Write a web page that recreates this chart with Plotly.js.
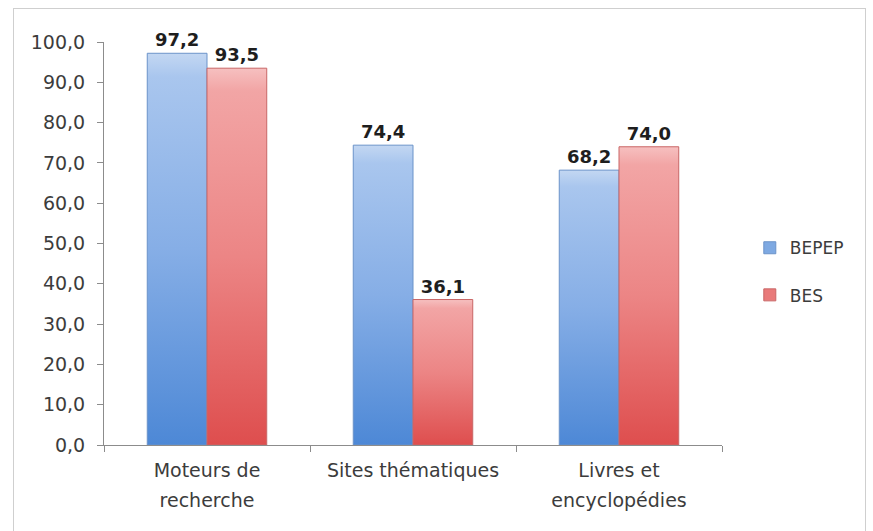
<!DOCTYPE html>
<html>
<head>
<meta charset="utf-8">
<script src="https://cdn.plot.ly/plotly-3.0.1.min.js"></script>
<style>
html,body{margin:0;padding:0;background:#fff;}
#wrap{position:relative;width:873px;height:531px;}
#frame{position:absolute;left:13px;top:8px;width:853px;height:523px;border:1px solid #cfcfcf;border-bottom:none;box-sizing:border-box;pointer-events:none;}
#chart{position:absolute;left:0;top:0;width:873px;height:531px;}
</style>
</head>
<body>
<div id="wrap"><div id="chart"></div><div id="frame"></div></div>
<script>
const categories = ["Moteurs de<br>recherche", "Sites thématiques", "Livres et<br>encyclopédies"];
const seriesNames = ["BEPEP", "BES"];
const bepep = [97.2, 74.4, 68.2];
const bes = [93.5, 36.1, 74.0];
const yTicks = [0,10,20,30,40,50,60,70,80,90,100];

const FONT = '"DejaVu Sans", sans-serif';
const common = {
  type: 'bar',
  x: categories,
  texttemplate: '%{y:.1f}',
  textposition: 'outside',
  cliponaxis: false,
  textfont: {family: FONT, size: 18, color: '#1e1e1e', weight: 'bold'},
  hoverinfo: 'none'
};
const traces = [
  Object.assign({}, common, {name: seriesNames[0], y: bepep, legendgroup: 'a',
    marker: {color: '#7ea9e2', line: {color: '#6b93c9', width: 1}}}),
  Object.assign({}, common, {name: seriesNames[1], y: bes, legendgroup: 'b',
    marker: {color: '#e97a7a', line: {color: '#c96666', width: 1}}})
];
const layout = {
  width: 873, height: 531,
  margin: {l: 104, r: 151, t: 42, b: 86},
  paper_bgcolor: 'rgba(0,0,0,0)', plot_bgcolor: 'rgba(0,0,0,0)',
  separators: ', ',
  barmode: 'group', bargap: 0.42, bargroupgap: 0,
  font: {family: FONT, size: 19, color: '#3c3c3c'},
  showlegend: true,
  legend: {x: 1.045, y: 0.43, xanchor: 'left', yanchor: 'middle', font: {size: 17, color: '#3c3c3c'},
           tracegroupgap: 22, itemwidth: 30, bgcolor: 'rgba(0,0,0,0)'},
  xaxis: {showline: true, linecolor: '#8c8c8c', ticks: 'outside', tickson: 'boundaries',
          ticklen: 6, tickcolor: '#8c8c8c', showgrid: false, zeroline: false, automargin: false,
          tickfont: {size: 19}, ticklabelstandoff: 8},
  yaxis: {range: [0, 100], tickvals: yTicks, tickformat: '.1f', showline: true, linecolor: '#8c8c8c',
          ticks: 'outside', ticklen: 6, tickcolor: '#8c8c8c', showgrid: false, zeroline: false,
          ticklabelstandoff: 8, automargin: false, tickfont: {size: 19}}
};
Plotly.newPlot('chart', traces, layout, {displayModeBar: false, staticPlot: true}).then(function(gd){
  const svg = gd.querySelector('svg.main-svg');
  const ns = 'http://www.w3.org/2000/svg';
  let defs = svg.querySelector('defs');
  if (!defs) { defs = document.createElementNS(ns, 'defs'); svg.insertBefore(defs, svg.firstChild); }
  const grads = [
    ['gBlue', [['0', '#c3d7f2'], ['0.06', '#a9c6ee'], ['0.5', '#86aee6'], ['1', '#4d88d6']]],
    ['gRed',  [['0', '#f6c0c0'], ['0.06', '#f2a5a5'], ['0.5', '#ec8585'], ['1', '#de4e4e']]]
  ];
  grads.forEach(function(g){
    const lg = document.createElementNS(ns, 'linearGradient');
    lg.setAttribute('id', g[0]); lg.setAttribute('x1','0'); lg.setAttribute('y1','0');
    lg.setAttribute('x2','0'); lg.setAttribute('y2','1');
    g[1].forEach(function(s){
      const st = document.createElementNS(ns, 'stop');
      st.setAttribute('offset', s[0]); st.setAttribute('stop-color', s[1]);
      lg.appendChild(st);
    });
    defs.appendChild(lg);
  });
  const tr = gd.querySelectorAll('.barlayer .trace');
  tr.forEach(function(t, i){
    t.querySelectorAll('.point path').forEach(function(p){
      p.style.fill = 'url(#' + grads[i][0] + ')';
    });
  });
  // widen line spacing for two-line category labels
  gd.querySelectorAll('.xtick text tspan.line').forEach(function(ts){
    const dy = ts.getAttribute('dy');
    if (dy && parseFloat(dy) > 0) ts.setAttribute('dy', (parseFloat(dy) * 1.6 / 1.3) + 'em');
  });
});
</script>
</body>
</html>
